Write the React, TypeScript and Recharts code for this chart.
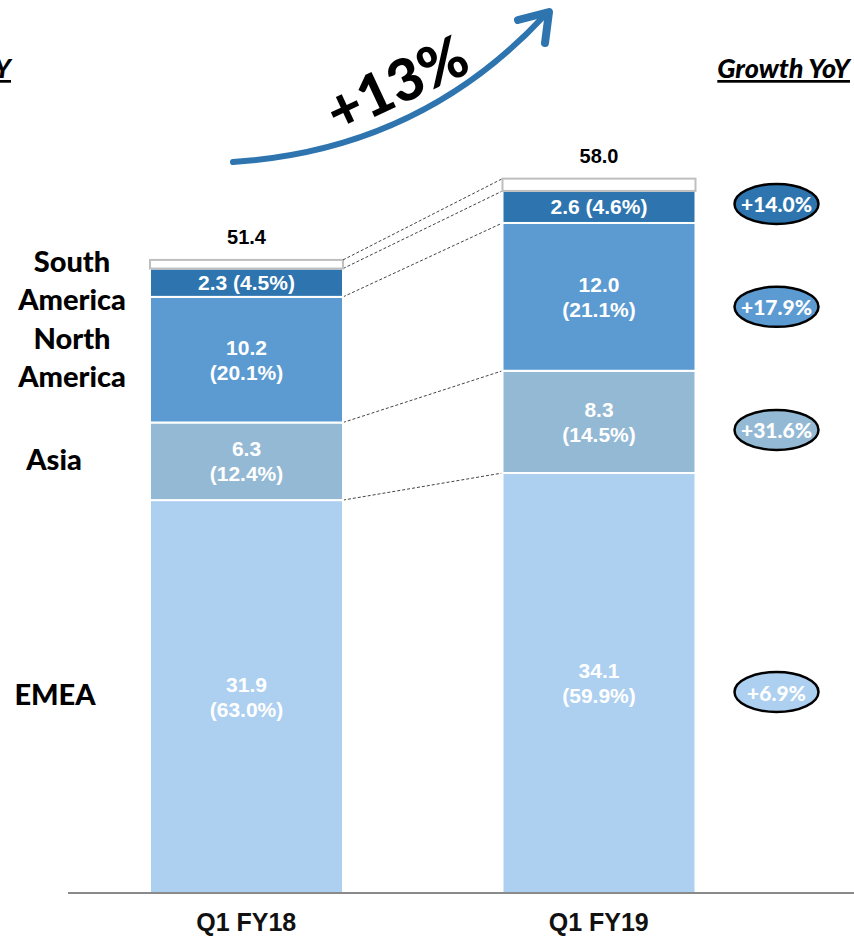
import React from 'react';
import { BarChart, Bar, XAxis, YAxis, LabelList } from 'recharts';

const periods = ['Q1 FY18', 'Q1 FY19'];

// revenue by region, stacked bottom to top
const emea = [31.9, 34.1];
const asia = [6.3, 8.3];
const northAmerica = [10.2, 12.0];
const southAmerica = [2.3, 2.6];
const other = [0.7, 1.0];
const totals = [51.4, 58.0];

// share of total, %
const emeaShare = [63.0, 59.9];
const asiaShare = [12.4, 14.5];
const northAmericaShare = [20.1, 21.1];
const southAmericaShare = [4.5, 4.6];

// growth year over year, %
const emeaGrowth = 6.9;
const asiaGrowth = 31.6;
const northAmericaGrowth = 17.9;
const southAmericaGrowth = 14.0;
const totalGrowth = 13;

const data = periods.map((period, i) => ({
  period,
  emea: emea[i],
  asia: asia[i],
  northAmerica: northAmerica[i],
  southAmerica: southAmerica[i],
  other: other[i],
}));

type Region = {
  key: string;
  name: string[];
  share: number[];
  growth: number;
  color: string;
  nameX: number;
  badgeDy: number;
  oneLine?: boolean;
};

const regions: Region[] = [
  { key: 'emea', name: ['EMEA'], share: emeaShare, growth: emeaGrowth, color: '#ADCFF0', nameX: 55, badgeDy: 9 },
  { key: 'asia', name: ['Asia'], share: asiaShare, growth: asiaGrowth, color: '#94B9D4', nameX: 54, badgeDy: 8 },
  { key: 'northAmerica', name: ['North', 'America'], share: northAmericaShare, growth: northAmericaGrowth, color: '#5B9BD2', nameX: 72, badgeDy: 10 },
  { key: 'southAmerica', name: ['South', 'America'], share: southAmericaShare, growth: southAmericaGrowth, color: '#2E75B0', nameX: 72, badgeDy: -3, oneLine: true },
];

const ARIAL = 'Arial, "Liberation Sans", sans-serif';
const SANS = 'Lato, "Open Sans", sans-serif';

// right edge / top of each segment of the first bar, picked up by the second bar's connector
const firstBarTops: Record<string, { x: number; y: number }> = {};

const segmentShape = (key: string, fill: string, stroke: string) => (props: any) => {
  const { x, y, width, height, index } = props;
  if (index === 0) firstBarTops[key] = { x: x + width, y };
  const prev = firstBarTops[key];
  return (
    <g>
      {index === 1 && prev && (
        <line x1={prev.x} y1={prev.y} x2={x} y2={y} stroke="#444" strokeWidth={1} strokeDasharray="3 2" />
      )}
      <rect x={x} y={y} width={width} height={height} fill={fill} stroke={stroke} strokeWidth={2} />
    </g>
  );
};

const fmt = (v: number) => v.toFixed(1);

const segmentLabel = (r: Region, values: number[]) => (props: any) => {
  const { x, y, width, height, index } = props;
  const cx = x + width / 2;
  const cy = y + height / 2;
  const v = values[index];
  const s = r.share[index];
  const textStyle = { fill: '#fff', fontSize: 21, fontWeight: 700, fontFamily: ARIAL };
  return (
    <g>
      {r.oneLine ? (
        <text x={cx} y={cy} textAnchor="middle" dominantBaseline="central" style={textStyle}>
          {`${fmt(v)} (${fmt(s)}%)`}
        </text>
      ) : (
        <>
          <text x={cx} y={cy - 12.5} textAnchor="middle" dominantBaseline="central" style={textStyle}>
            {fmt(v)}
          </text>
          <text x={cx} y={cy + 12.5} textAnchor="middle" dominantBaseline="central" style={textStyle}>
            {`(${fmt(s)}%)`}
          </text>
        </>
      )}
      {index === 0 &&
        r.name.map((line, j) => (
          <text
            key={line}
            x={r.nameX}
            y={cy - 3 + (j - (r.name.length - 1) / 2) * 38}
            textAnchor="middle"
            dominantBaseline="central"
            style={{ fill: '#000', fontSize: 29, fontWeight: 900, fontFamily: SANS }}
          >
            {line}
          </text>
        ))}
      {index === 1 && (
        <g>
          <ellipse cx={x + width + 81} cy={cy + r.badgeDy} rx={42} ry={20} fill={r.color} stroke="#000" strokeWidth={2.5} />
          <text
            x={x + width + 81}
            y={cy + r.badgeDy}
            textAnchor="middle"
            dominantBaseline="central"
            style={{ fill: '#fff', fontSize: 21, fontWeight: 900, fontFamily: SANS }}
          >
            {`+${fmt(r.growth)}%`}
          </text>
        </g>
      )}
    </g>
  );
};

const totalLabel = (props: any) => {
  const { x, y, width, index } = props;
  return (
    <text x={x + width / 2} y={y - 16} textAnchor="middle" style={{ fill: '#000', fontSize: 20, fontWeight: 700, fontFamily: ARIAL }}>
      {fmt(totals[index])}
    </text>
  );
};

const headerStyle = {
  fill: '#000',
  fontSize: 27,
  fontWeight: 900,
  fontStyle: 'italic',
  fontFamily: SANS,
  textDecoration: 'underline',
};

export default function App() {
  return (
    <div style={{ position: 'absolute', left: 0, top: 0, width: 854, height: 943, background: '#fff' }}>
      <BarChart width={854} height={943} data={data} margin={{ top: 154, right: 0, bottom: 0, left: 68 }}>
        <XAxis
          dataKey="period"
          height={50}
          padding={{ left: 2, right: 79 }}
          axisLine={{ stroke: '#8a8a8a', strokeWidth: 2 }}
          tickLine={false}
          tickMargin={14}
          tick={{ fill: '#111', fontSize: 25, fontWeight: 700, fontFamily: ARIAL }}
        />
        <YAxis hide domain={[0, 60]} />
        {regions.map((r) => {
          const values = data.map((d) => (d as any)[r.key] as number);
          return (
            <Bar
              key={r.key}
              dataKey={r.key}
              stackId="region"
              barSize={193}
              fill={r.color}
              shape={segmentShape(r.key, r.color, '#fff')}
              isAnimationActive={false}
            >
              <LabelList dataKey={r.key} content={segmentLabel(r, values)} />
            </Bar>
          );
        })}
        <Bar dataKey="other" stackId="region" barSize={193} fill="#fff" shape={segmentShape('other', '#fff', '#bfbfbf')} isAnimationActive={false}>
          <LabelList dataKey="other" content={totalLabel} />
        </Bar>
      </BarChart>

      <svg width={854} height={943} style={{ position: 'absolute', left: 0, top: 0, pointerEvents: 'none' }}>
        <text x={11} y={78} textAnchor="end" style={headerStyle}>
          Growth YoY
        </text>
        <text x={850} y={78} textAnchor="end" style={headerStyle}>
          Growth YoY
        </text>
        <path d="M233,162 Q420,150 545,15" fill="none" stroke="#2E75B0" strokeWidth={6} strokeLinecap="round" />
        <path d="M518,20 L549,12 L545,43" fill="none" stroke="#2E75B0" strokeWidth={8} strokeLinecap="round" strokeLinejoin="round" />
        <text
          x={396}
          y={82}
          textAnchor="middle"
          dominantBaseline="central"
          transform="rotate(-25 396 82)"
          style={{ fill: '#000', fontSize: 58, fontWeight: 900, fontFamily: SANS }}
        >
          {`+${totalGrowth}%`}
        </text>
      </svg>
    </div>
  );
}
